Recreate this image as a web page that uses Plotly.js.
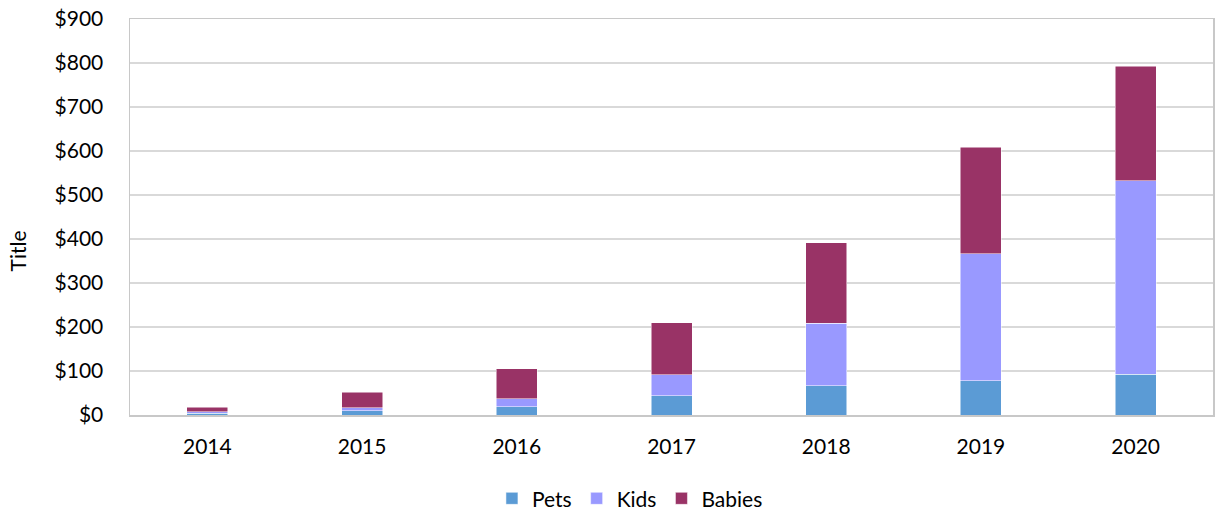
<!DOCTYPE html>
<html>
<head>
<meta charset="utf-8">
<script src="https://cdn.plot.ly/plotly-3.0.1.min.js"></script>
<style>html,body{margin:0;padding:0;background:#fff;}#chart{width:1222px;height:512px;}</style>
</head>
<body>
<div id="chart"></div>
<script>
var years = ['2014','2015','2016','2017','2018','2019','2020'];
var pets = [4, 10, 19, 44, 67, 78, 93];
var kids = [3, 6, 18, 48, 142, 289, 439];
var babies = [11, 36, 68, 118, 183, 242, 261];
var tickVals = [0,100,200,300,400,500,600,700,800,900];
var tickText = ['$0','$100','$200','$300','$400','$500','$600','$700','$800','$900'];

var font = 'Lato, "Liberation Sans", Arial, sans-serif';
function mk(name, vals, color){
  return {type:'bar', name:name, x:years, y:vals, marker:{color:color, line:{color:'#ffffff', width:0.5}}, hoverinfo:'x+y+name'};
}
var data = [mk('Pets', pets, '#5B9BD5'), mk('Kids', kids, '#9999FF'), mk('Babies', babies, '#993366')];
var layout = {
  width:1222, height:512,
  margin:{l:130, r:9, t:19, b:97},
  barmode:'stack', bargap:0.735,
  paper_bgcolor:'#fff', plot_bgcolor:'#fff',
  font:{family:font, size:21, color:'#000'},
  xaxis:{type:'category', showline:true, linecolor:'#c8c8c8', linewidth:1.5, mirror:true, ticks:'', ticklabelstandoff:12, showgrid:false},
  yaxis:{range:[0,900], tickvals:tickVals, ticktext:tickText, showgrid:true, gridcolor:'#d9d9d9', gridwidth:1.5, showline:true, linecolor:'#c8c8c8', linewidth:1.5, mirror:true, zeroline:false, ticks:'', ticklabelstandoff:21},
  annotations:[{text:'Title', xref:'paper', yref:'paper', x:-0.104, y:0.414, xanchor:'center', yanchor:'middle', textangle:-90, showarrow:false, font:{size:21}}],
  showlegend:true,
  legend:{orientation:'h', xref:'container', yref:'container', x:0.5155, xanchor:'center', y:0.026, yanchor:'middle', font:{size:21}, itemwidth:30, traceorder:'normal'}
};
Plotly.newPlot('chart', data, layout, {displayModeBar:false, staticPlot:true});
</script>
</body>
</html>
